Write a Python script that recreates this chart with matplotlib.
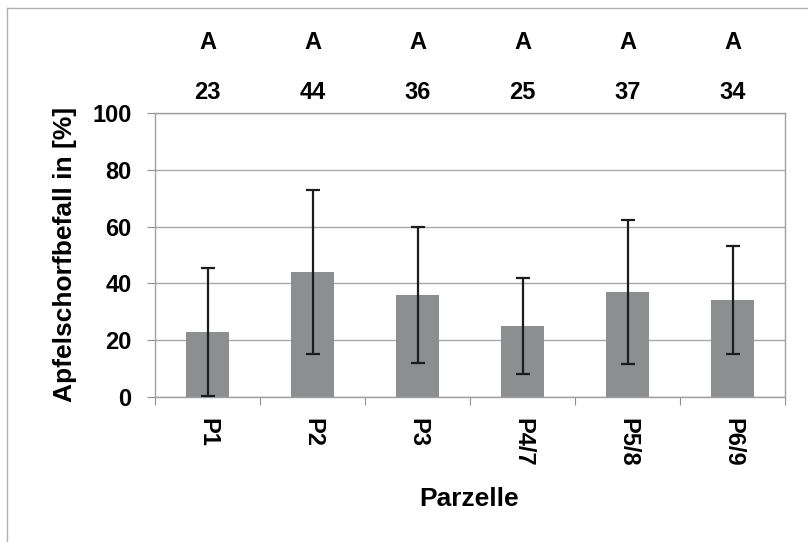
import matplotlib
matplotlib.use("Agg")
import matplotlib.pyplot as plt
from matplotlib.lines import Line2D
import matplotlib.transforms as mtransforms

categories = ["P1", "P2", "P3", "P4/7", "P5/8", "P6/9"]
means = [23, 44, 36, 25, 37, 34]
errors = [22.5, 29, 24, 17, 25.5, 19]
letters = ["A", "A", "A", "A", "A", "A"]
yticks = [0, 20, 40, 60, 80, 100]

plt.rcParams['font.family'] = ['Liberation Sans', 'DejaVu Sans']
plt.rcParams['font.weight'] = 'bold'

W, H = 808, 542
fig = plt.figure(figsize=(W / 100, H / 100), dpi=100)
fig.patch.set_facecolor('white')
ax = fig.add_axes([155 / W, 1 - 397 / H, (785 - 155) / W, (397 - 113) / H])

x = list(range(len(categories)))
ax.bar(x, means, width=0.41, color='#8c8e90', zorder=2)
ax.errorbar(x, means, yerr=errors, fmt='none', ecolor='#1c1c1c',
            elinewidth=1.6, capsize=5, capthick=1.6, zorder=3)

ax.set_xlim(-0.5, len(categories) - 0.5)
ax.set_ylim(0, 100)
ax.set_yticks(yticks)
ax.set_yticklabels([str(v) for v in yticks], fontsize=17, fontweight='bold')
ax.yaxis.grid(True, color='#a8a8a8', linewidth=1.0, zorder=0)
ax.set_axisbelow(True)

ax.set_xticks([i + 0.5 for i in range(-1, len(categories))])
ax.set_xticklabels([])
ax.set_xticks(x, minor=True)
ax.set_xticklabels(categories, minor=True, rotation=270, fontsize=17,
                   fontweight='bold', va='top', ha='center')
ax.tick_params(axis='x', which='minor', length=0, pad=15)
ax.tick_params(axis='x', which='major', length=6, color='#909090', direction='out')
ax.tick_params(axis='y', length=6, color='#909090', direction='out', pad=11)

for s in ax.spines.values():
    s.set_color('#a0a0a0')
    s.set_linewidth(1.0)

fig.text(65 / W, 1 - 254 / H, "Apfelschorfbefall in [%]", rotation=90,
         ha='center', va='center', fontsize=19, fontweight='bold')
fig.text(469 / W, 1 - 499 / H, "Parzelle", ha='center', va='center',
         fontsize=19, fontweight='bold')

trans = mtransforms.blended_transform_factory(ax.transData, ax.transAxes)
for xi, m, l in zip(x, means, letters):
    ax.text(xi, 1.248, l, transform=trans, ha='center', va='center',
            fontsize=17, fontweight='bold', clip_on=False)
    ax.text(xi, 1.072, str(m), transform=trans, ha='center', va='center',
            fontsize=17, fontweight='bold', clip_on=False)

fig.add_artist(Line2D([7 / W, 1], [1 - 8 / H, 1 - 8 / H], transform=fig.transFigure,
                      color='#b0b0b0', linewidth=1.0))
fig.add_artist(Line2D([7 / W, 7 / W], [0, 1 - 8 / H], transform=fig.transFigure,
                      color='#b0b0b0', linewidth=1.0))

fig.savefig("out.png", dpi=100)
